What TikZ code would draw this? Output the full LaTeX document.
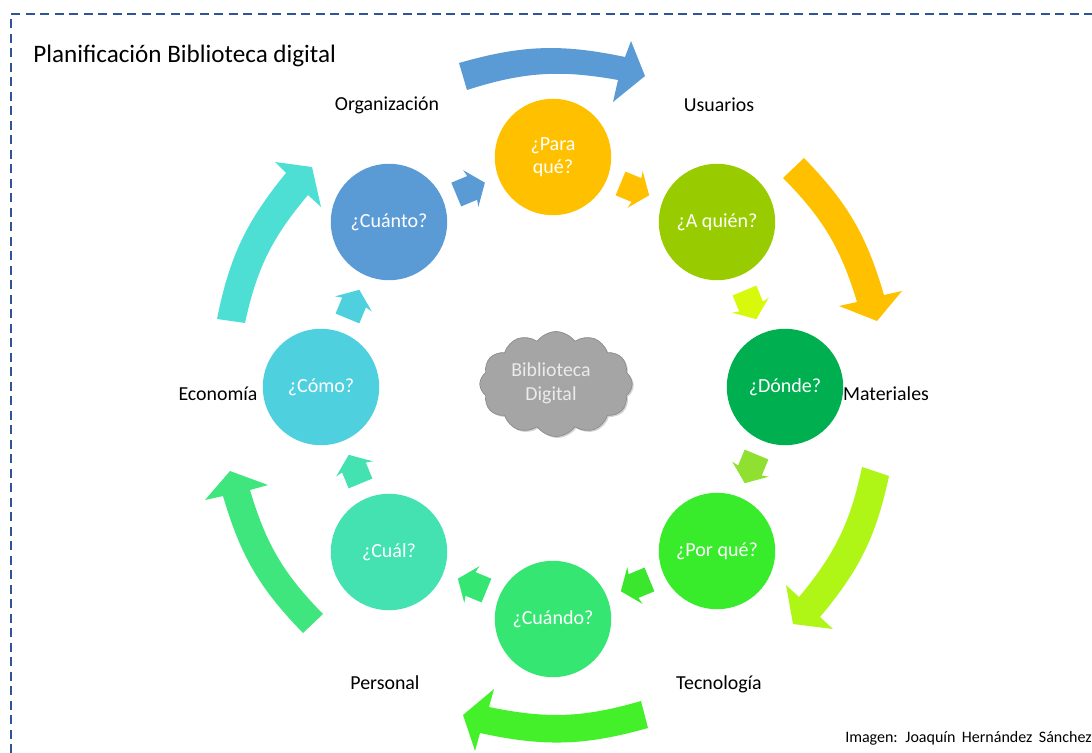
\documentclass[tikz,border=0pt]{standalone}
\usepackage{fontspec}
\usepackage{tikz}
\usetikzlibrary{shapes.arrows,shapes.symbols,shadows}
\setmainfont{Carlito}

\definecolor{cblue}{HTML}{5B9BD5}
\definecolor{cgold}{HTML}{FFC000}
\definecolor{colive}{HTML}{99CC00}
\definecolor{cgreen}{HTML}{00B050}
\definecolor{cpor}{HTML}{38EC2C}
\definecolor{ccuando}{HTML}{36E672}
\definecolor{ccual}{HTML}{43E2B0}
\definecolor{ccomo}{HTML}{4FD0DE}
\definecolor{ayellow}{HTML}{D8F80C}
\definecolor{alime}{HTML}{8FE030}
\definecolor{agreen}{HTML}{3AE62E}
\definecolor{bigLime}{HTML}{AFF516}
\definecolor{bigGreen}{HTML}{44F02A}
\definecolor{bigSea}{HTML}{3FE67E}
\definecolor{bigTeal}{HTML}{4DDED4}
\definecolor{framec}{HTML}{2F5597}
\definecolor{cloudc}{HTML}{A5A5A5}

\begin{document}
\begin{tikzpicture}[x=0.02cm, y=-0.02cm,
	question/.style={circle, minimum size=2.33cm, inner sep=0pt, text=white, font=\fontsize{11.4}{13}\selectfont, align=center},
	place/.style={font=\fontsize{11.3}{13}\selectfont, inner sep=0pt},
	small/.style={single arrow, minimum height=0.62cm, inner xsep=0pt, inner ysep=0.25cm,
		single arrow head extend=0.14cm, single arrow tip angle=105, single arrow head indent=0.03cm}]
	\useasboundingbox (0, 0) rectangle (1092, 753);

	% frame
	\coordinate (framebottom) at (11, 753);
	\coordinate (framecorner) at (11, 14);
	\coordinate (frameright) at (1092, 14);
	\draw[framec, line width=0.04cm, dash pattern=on 0.18cm off 0.11cm] (framebottom) -- (framecorner) -- (frameright);

	\node[place, anchor=west, font=\fontsize{14.3}{16}\selectfont] (title) at (33, 55.5) {Planificación Biblioteca digital};

	% big arrows
	\fill[cblue] (459, 63) to[bend left=14] (625, 57) -- (631, 41) -- (645, 76) -- (613, 102) -- (618, 80) to[bend right=14] (467, 90) -- cycle;
	\fill[cgold] (804, 158) to[bend left=14] (884, 295) -- (902, 291) -- (877, 321) -- (839, 306) -- (857, 302) to[bend right=14] (783, 178) -- cycle;
	\fill[bigLime] (889, 476) to[bend left=14] (820, 617) -- (833, 629) -- (793, 624) -- (786, 585) -- (799, 597) to[bend right=14] (862, 467) -- cycle;
	\fill[bigGreen] (648, 728) to[bend left=14] (480, 733) -- (475, 751) -- (463, 715) -- (494, 689) -- (489, 707) to[bend right=14] (641, 701) -- cycle;
	\fill[bigSea] (303, 633) to[bend left=14] (223, 496) -- (205, 500) -- (230, 471) -- (268, 485) -- (250, 490) to[bend right=14] (323, 614) -- cycle;
	\fill[bigTeal] (217, 319) to[bend left=14] (286, 173) -- (275, 162) -- (312, 167) -- (321, 207) -- (308, 195) to[bend right=14] (245, 323) -- cycle;

	% questions
	\node[question, fill=cgold] (para) at (553, 157) {¿Para\\qué?};
	\node[question, fill=colive] (quien) at (717, 222) {¿A quién?};
	\node[question, fill=cgreen] (donde) at (785, 387) {¿Dónde?};
	\node[question, fill=cpor] (por) at (717, 551) {¿Por qué?};
	\node[question, fill=ccuando] (cuando) at (553, 619) {¿Cuándo?};
	\node[question, fill=ccual] (cual) at (389, 552) {¿Cuál?};
	\node[question, fill=ccomo] (como) at (321, 387) {¿Cómo?};
	\node[question, fill=cblue] (cuanto) at (389, 222) {¿Cuánto?};

	% small arrows
	\node[small, fill=cblue, rotate=22.5] (cuantopara) at (466, 190.5) {};
	\node[small, fill=cgold, rotate=-22.5] (paraquien) at (630.3, 187.5) {};
	\node[small, fill=ayellow, rotate=-67.5] (quiendonde) at (748.5, 300.3) {};
	\node[small, fill=alime, rotate=-112.5] (dondepor) at (752.5, 464.3) {};
	\node[small, fill=agreen, rotate=-157.5] (porcuando) at (639.7, 583.5) {};
	\node[small, fill=ccuando, rotate=157.5] (cuandocual) at (476.7, 586.5) {};
	\node[small, fill=ccual, rotate=112.5] (cualcomo) at (356.5, 473.7) {};
	\node[small, fill=ccomo, rotate=67.5] (comocuanto) at (351.5, 308.7) {};

	\node[cloud, cloud puffs=12, cloud puff arc=110, aspect=1.4, minimum width=3.05cm, minimum height=2.1cm, inner sep=0pt,
		fill=cloudc, draw=cloudc!85!black, drop shadow={shadow xshift=0.03cm, shadow yshift=-0.03cm, opacity=0.35}] (biblio) at (556, 384) {};
	\node[place, text=white!92!black, align=center] (bibliotext) at (551, 383.5) {Biblioteca\\[1pt]Digital};

	% labels
	\node[place] (organizacion) at (387, 105) {Organización};
	\node[place] (usuarios) at (719, 105) {Usuarios};
	\node[place] (materiales) at (886, 394) {Materiales};
	\node[place] (tecnologia) at (719, 684) {Tecnología};
	\node[place] (personal) at (385, 683) {Personal};
	\node[place] (economia) at (218, 394) {Economía};

	\node[place, anchor=east, font=\fontsize{9.1}{10}\selectfont] (credit) at (1092, 738) {\spaceskip=3.7pt Imagen: Joaquín Hernández Sánchez};
\end{tikzpicture}
\end{document}
